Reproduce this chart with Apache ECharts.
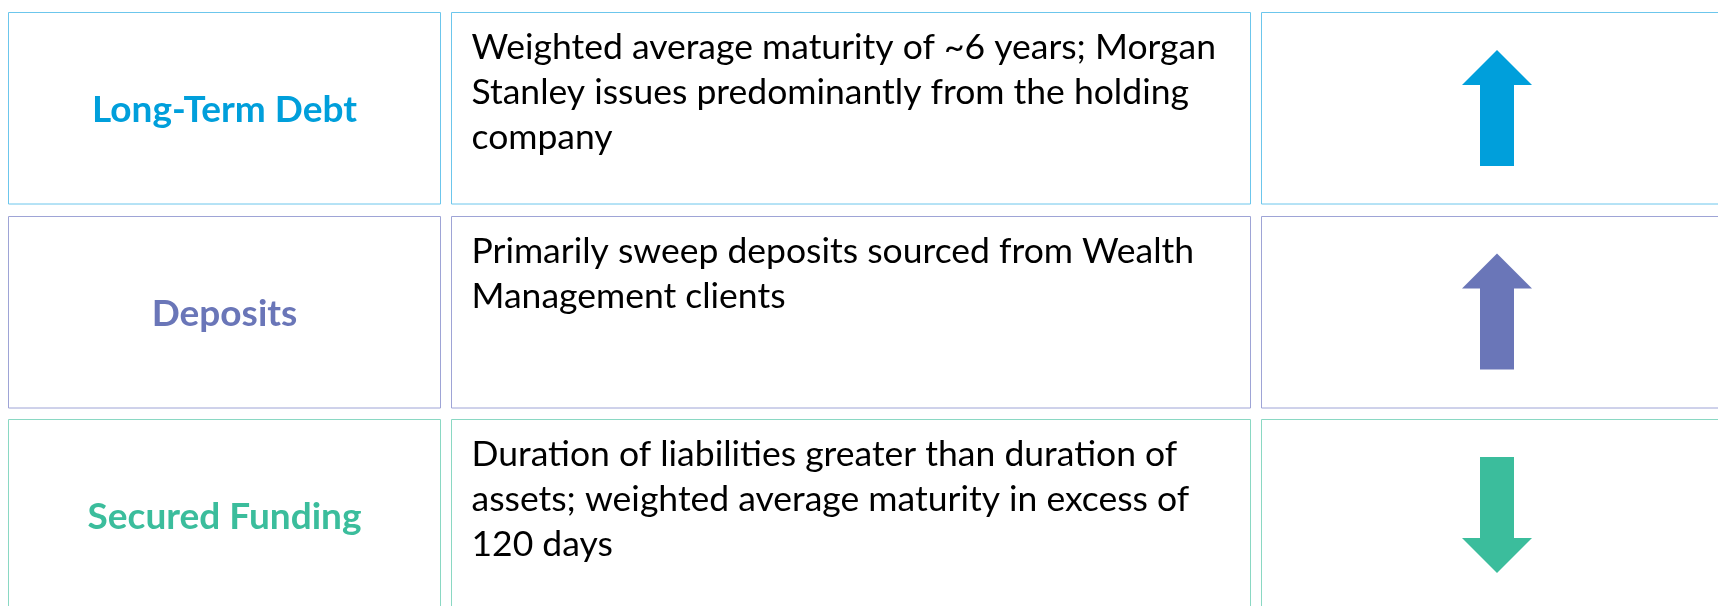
<!DOCTYPE html>
<html>
<head>
<meta charset="utf-8">
<script src="https://cdn.jsdelivr.net/npm/echarts@6/dist/echarts.min.js"></script>
<style>
  html, body { margin: 0; padding: 0; background: #fff; }
  #chart { width: 1718px; height: 606px; }
</style>
</head>
<body>
<div id="chart"></div>
<script>
// funding sources, top to bottom
const categories = ['Long-Term Debt', 'Deposits', 'Secured Funding']
const descriptions = [
  'Weighted average maturity of ~6 years; Morgan\nStanley issues predominantly from the holding\ncompany',
  'Primarily sweep deposits sourced from Wealth\nManagement clients',
  'Duration of liabilities greater than duration of\nassets; weighted average maturity in excess of\n120 days',
]
// 1 = arrow up, -1 = arrow down
const trend = [1, 1, -1]

// row colours: [accent, border]
const palette = [
  ['#009fdb', '#6cc6ec'],
  ['#6a76b8', '#9ea4d6'],
  ['#3bbd9c', '#8ad8c3'],
]

// column extents in px (x axis runs 1:1 with the canvas)
const cols = [[8.5, 440.5], [451.5, 1250.5], [1261.5, 1733.5]]
const rowGap = 12
// row pitch 203.5px, first row centred at y=108
const yMin = -108 / 203.5
const yMax = yMin + 606 / 203.5

const chart = echarts.init(document.getElementById('chart'), null, { renderer: 'canvas' })

function renderItem(params, api) {
  const i = api.value(0)
  const cy = api.coord([0, i])[1]
  const band = api.size([0, 1])[1]
  const h = band - rowGap
  const top = Math.round(cy - h / 2) + 0.5
  const [accent, border] = palette[i % palette.length]

  const cells = cols.map(([x0, x1]) => ({
    type: 'rect',
    shape: { x: x0, y: top, width: x1 - x0, height: h },
    style: { fill: '#fff', stroke: border, lineWidth: 1 },
  }))

  const ax = (cols[2][0] + cols[2][1]) / 2 - 0.5
  const half = 58, headH = 35, headW = 35, shaftW = 17
  const d = api.value(1)
  const tipY = cy - d * half
  const baseY = tipY + d * headH
  const endY = cy + d * half
  const arrow = {
    type: 'polygon',
    shape: {
      points: [
        [ax, tipY],
        [ax + headW, baseY],
        [ax + shaftW, baseY],
        [ax + shaftW, endY],
        [ax - shaftW, endY],
        [ax - shaftW, baseY],
        [ax - headW, baseY],
      ],
    },
    style: { fill: accent },
  }

  const label = {
    type: 'text',
    x: (cols[0][0] + cols[0][1]) / 2,
    y: cy + 2.5,
    style: {
      text: categories[i],
      fill: accent,
      font: 'bold 37px Lato',
      align: 'center',
      verticalAlign: 'middle',
    },
  }

  const desc = {
    type: 'text',
    x: cols[1][0] + 20,
    y: top + 13,
    style: {
      text: descriptions[i],
      fill: '#000',
      font: '35.5px Lato',
      lineHeight: 45,
      align: 'left',
      verticalAlign: 'top',
    },
  }

  return { type: 'group', children: [...cells, label, desc, arrow] }
}

chart.setOption({
  animation: false,
  grid: { left: 0, top: 0, right: 0, bottom: 0 },
  xAxis: { type: 'value', min: 0, max: 1718, show: false },
  yAxis: { type: 'value', min: yMin, max: yMax, inverse: true, show: false },
  series: [
    {
      type: 'custom',
      renderItem,
      clip: false,
      data: categories.map((c, i) => [i, trend[i]]),
    },
  ],
})
</script>
</body>
</html>
